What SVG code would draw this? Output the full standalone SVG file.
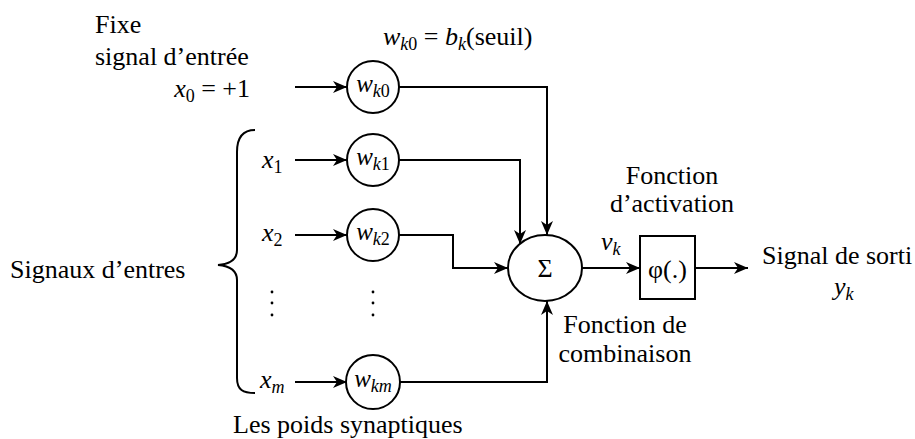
<svg xmlns="http://www.w3.org/2000/svg" width="915" height="439" viewBox="0 0 915 439">
<defs>
<marker id="arr" viewBox="0 0 14 12" refX="14" refY="6" markerWidth="14" markerHeight="12" markerUnits="userSpaceOnUse" orient="auto">
<path d="M0,0 L14,6 L0,12 L4,6 z" fill="#000"/>
</marker>
<style>
text{font-family:"Liberation Serif","Times New Roman","DejaVu Serif",serif;font-size:26px;fill:#000}
.it{font-style:italic}
.up{font-style:normal}
.sub{font-size:18px}
.n{fill:#fff;stroke:#000;stroke-width:2}
.c{fill:none;stroke:#000;stroke-width:2}
.a{marker-end:url(#arr)}
</style>
</defs>
<rect width="915" height="439" fill="#fff"/>

<g id="labels">
<text x="95" y="33">Fixe</text>
<text x="95" y="65">signal d’entrée</text>
<text x="250" y="97" text-anchor="end"><tspan class="it">x</tspan><tspan class="sub" dy="5">0</tspan><tspan dy="-5"> = +1</tspan></text>
<text x="383" y="45"><tspan class="it">w</tspan><tspan class="sub it" dy="5">k</tspan><tspan class="sub">0</tspan><tspan dy="-5"> = </tspan><tspan class="it">b</tspan><tspan class="sub it" dy="5">k</tspan><tspan dy="-5">(seuil)</tspan></text>
<text x="10" y="278">Signaux d’entres</text>
<text x="262" y="168" class="it">x<tspan class="sub up" dy="5">1</tspan></text>
<text x="262" y="241" class="it">x<tspan class="sub up" dy="5">2</tspan></text>
<text x="260" y="388" class="it">x<tspan class="sub" dy="5">m</tspan></text>
<text x="233" y="433">Les poids synaptiques</text>
<text x="672" y="184" text-anchor="middle">Fonction</text>
<text x="672" y="212" text-anchor="middle">d’activation</text>
<text x="625" y="333" text-anchor="middle">Fonction de</text>
<text x="625" y="362" text-anchor="middle">combinaison</text>
<text x="601" y="250" class="it">v<tspan class="sub" dy="5">k</tspan></text>
<text x="762" y="264">Signal de sorti</text>
<text x="834" y="295" class="it">y<tspan class="sub" dy="5">k</tspan></text>
</g>

<g id="brace">
<path class="c" d="M255,130 C243,130 237,137 237,152 L237,250 C237,259 230,264 218,265 C230,266 237,271 237,280 L237,378 C237,390 243,393 255,393"/>
</g>

<g id="dots" fill="#000">
<circle cx="272" cy="292" r="1.4"/><circle cx="272" cy="303" r="1.4"/><circle cx="272" cy="315" r="1.4"/>
<circle cx="373" cy="292" r="1.4"/><circle cx="373" cy="303" r="1.4"/><circle cx="373" cy="315" r="1.4"/>
</g>

<g id="connectors">
<line class="c a" x1="295" y1="87" x2="347" y2="87"/>
<line class="c a" x1="295" y1="160" x2="347" y2="160"/>
<line class="c a" x1="295" y1="235" x2="347" y2="235"/>
<line class="c a" x1="295" y1="382" x2="347" y2="382"/>
<polyline class="c a" points="399,87 547,87 547,235"/>
<polyline class="c a" points="399,160 520,160 520,244"/>
<polyline class="c a" points="399,235 453,235 453,268 508,268"/>
<polyline class="c a" points="399,382 547,382 547,301"/>
<line class="c a" x1="582" y1="268" x2="640" y2="268"/>
<line class="c a" x1="695" y1="268" x2="748" y2="268"/>
</g>

<g id="w_k0"><circle class="n" cx="373" cy="87" r="26"/><text x="373" y="92" text-anchor="middle" class="it" style="font-size:25px">w<tspan class="sub" dy="5">k</tspan><tspan class="sub up">0</tspan></text></g>
<g id="w_k1"><circle class="n" cx="373" cy="160" r="26"/><text x="373" y="165" text-anchor="middle" class="it" style="font-size:25px">w<tspan class="sub" dy="5">k</tspan><tspan class="sub up">1</tspan></text></g>
<g id="w_k2"><circle class="n" cx="373" cy="235" r="26"/><text x="373" y="240" text-anchor="middle" class="it" style="font-size:25px">w<tspan class="sub" dy="5">k</tspan><tspan class="sub up">2</tspan></text></g>
<g id="w_km"><circle class="n" cx="373" cy="382" r="27"/><text x="373" y="387" text-anchor="middle" class="it" style="font-size:25px">w<tspan class="sub" dy="5">km</tspan></text></g>
<g id="sigma"><ellipse class="n" cx="545" cy="268" rx="37" ry="33"/><text x="545" y="277" text-anchor="middle">Σ</text></g>
<g id="phi"><rect class="n" x="640" y="236" width="55" height="63"/><text x="667.5" y="278" text-anchor="middle">φ(.)</text></g>
</svg>
